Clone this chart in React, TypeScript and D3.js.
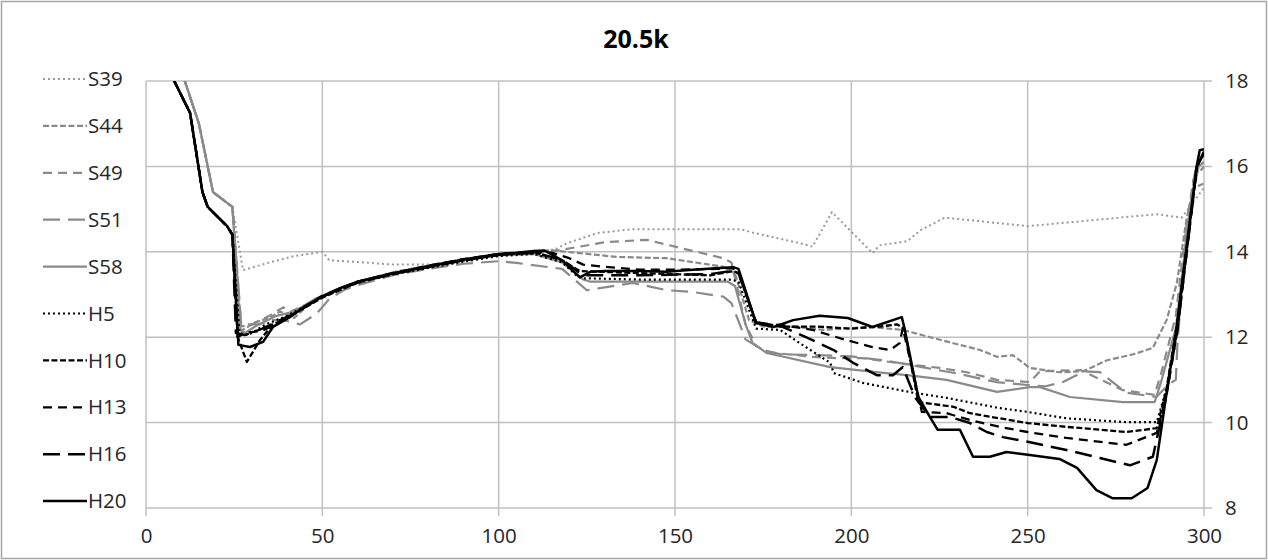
import React, { useEffect, useRef } from 'react';
import * as d3 from 'd3';

// cross-section profiles, [station, value]
const s39 = [[7, 19.4], [11, 18.0], [15, 17.0], [19, 15.4], [24.5, 15.05], [27.5, 13.57], [35, 13.75], [42, 13.9], [50, 14.0],
  [52, 13.8], [60, 13.76], [70, 13.7], [80.5, 13.7], [90, 13.8], [100, 13.9], [111.7, 13.97], [116.5, 14.08], [119.4, 14.2],
  [128, 14.44], [138, 14.53], [168.5, 14.53], [172, 14.45], [185.5, 14.2], [189, 14.12], [194.5, 14.93], [206, 13.97],
  [208, 14.15], [212, 14.2], [216, 14.25], [219.5, 14.5], [226.5, 14.8], [242, 14.67], [250, 14.6], [286.6, 14.88],
  [293.7, 14.8], [300, 15.5]];
const s44 = [[7, 19.4], [11, 18.0], [15, 17.0], [19, 15.4], [24.5, 15.05], [27, 12.15], [31, 12.35], [35, 12.45], [38, 12.6],
  [42, 12.45], [46, 12.75], [52, 13.0], [60, 13.3], [70, 13.52], [80, 13.68], [90, 13.82], [100, 13.92], [110, 13.98],
  [114.5, 14.04], [133.5, 13.88], [147.7, 13.85], [163.7, 13.65], [167, 13.5], [171, 12.4], [175, 12.25], [184.6, 12.24],
  [192, 12.17], [205.3, 12.24], [214.6, 12.17], [222.3, 12.0], [236.5, 11.7], [241.3, 11.54], [245.8, 11.58], [250.6, 11.28],
  [259, 11.18], [265.7, 11.2], [272.5, 11.46], [280, 11.6], [285.5, 11.75], [289.4, 12.4], [292.3, 13.27], [295, 14.74],
  [297, 15.5], [300, 15.6]];
const s49 = [[7, 19.4], [11, 18.0], [15, 17.0], [19, 15.4], [24.5, 15.05], [27, 12.25], [30, 12.3], [35, 12.5], [38.9, 12.7],
  [41, 12.6], [45, 12.75], [50, 12.95], [60, 13.3], [70, 13.5], [80, 13.68], [90, 13.82], [100, 13.93], [110, 13.98],
  [114.5, 14.0], [130.6, 14.23], [142, 14.28], [152, 14.08], [163.7, 13.85], [166, 13.75], [170, 12.3], [173, 11.8],
  [176, 11.65], [189, 11.54], [196, 11.51], [203, 11.51], [211, 11.42], [217.5, 11.35], [225, 11.28], [232.8, 11.18],
  [241.3, 11.0], [250.6, 10.95], [253.5, 11.2], [265, 11.23], [277, 10.76], [286, 10.65], [288, 11.2], [292, 12.5],
  [295, 14.6], [297, 15.7], [300, 16.0]];
const s51 = [[7, 19.4], [11, 18.0], [15, 17.0], [19, 15.4], [24.5, 15.05], [27, 12.3], [32, 12.3], [36, 12.4], [39, 12.4],
  [43.7, 12.3], [48.5, 12.56], [52, 12.9], [56, 13.1], [60, 13.22], [70, 13.45], [80, 13.6], [90, 13.72], [100, 13.78],
  [105, 13.74], [118, 13.6], [125, 13.1], [128.7, 13.15], [138, 13.27], [147.7, 13.1], [155, 13.06], [163.7, 12.95],
  [166, 12.8], [170, 11.95], [175, 11.7], [180, 11.6], [190, 11.58], [200, 11.55], [210, 11.45], [220, 11.3], [230, 11.15],
  [241, 10.95], [250, 10.88], [255, 10.85], [260, 10.95], [266, 11.2], [270.5, 11.18], [278, 10.7], [286.5, 10.6],
  [290, 10.9], [292, 11.0], [292.5, 11.9], [295, 14.4], [297.5, 15.9], [300, 16.1]];
const s58 = [[7, 19.4], [11, 18.0], [15, 17.0], [19, 15.4], [24.5, 15.05], [26.7, 12.2], [28, 12.1], [32, 12.3], [37, 12.5],
  [42, 12.6], [48, 12.9], [55, 13.15], [60, 13.3], [70, 13.5], [80, 13.65], [90, 13.8], [100, 13.92], [110, 13.95],
  [118, 13.75], [124, 13.35], [126, 13.3], [165, 13.3], [167, 13.2], [170, 12.3], [172, 11.86], [176, 11.63], [194, 11.3],
  [207, 11.18], [215.8, 11.11], [227, 11.0], [241.3, 10.72], [250.6, 10.83], [253.5, 10.83], [262, 10.6], [277, 10.48],
  [286, 10.48], [288, 11.0], [292, 12.2], [296, 15.0], [298.5, 16.0], [300, 16.1]];
const h5 = [[4, 19.4], [8, 18.0], [12.5, 17.25], [16, 15.4], [17.5, 15.05], [23, 14.6], [24.5, 14.4], [26.5, 12.1], [29, 12.05],
  [34, 12.3], [40, 12.5], [50, 12.95], [60, 13.27], [70, 13.47], [80, 13.62], [90, 13.77], [100, 13.9], [110, 13.95],
  [118, 13.75], [122, 13.45], [124, 13.38], [140, 13.35], [166, 13.35], [168, 13.3], [173, 12.2], [179.8, 12.17],
  [185.4, 11.86], [194, 11.4], [195, 11.16], [203.3, 10.93], [217.5, 10.7], [227, 10.58], [242, 10.34], [250, 10.25],
  [261, 10.1], [278, 10.01], [286.6, 10.01], [289.4, 10.8], [292.5, 12.2], [298, 16.0], [300, 16.3]];
const h10 = [[4, 19.4], [8, 18.0], [12.5, 17.25], [16, 15.4], [17.5, 15.05], [23, 14.6], [24.5, 14.4], [26, 12.0], [28.6, 11.42],
  [32.3, 11.93], [36, 12.3], [40, 12.45], [50, 12.93], [60, 13.28], [70, 13.48], [80, 13.65], [90, 13.8], [100, 13.93],
  [110, 13.99], [118, 13.8], [123, 13.55], [140, 13.5], [160, 13.45], [166.5, 13.55], [168, 13.5], [173, 12.35], [180, 12.25],
  [190, 12.25], [200, 12.2], [208, 12.25], [213, 12.3], [215, 12.2], [219, 10.48], [229, 10.37], [233.6, 10.22], [242, 10.1],
  [250, 9.99], [261, 9.9], [278, 9.78], [286.6, 9.87], [289.4, 10.8], [292.3, 12.3], [298, 16.0], [300, 16.3]];
const h13 = [[4, 19.4], [8, 18.0], [12.5, 17.25], [16, 15.4], [17.5, 15.05], [23, 14.6], [24.5, 14.4], [26, 12.0], [28, 12.1],
  [33, 12.15], [38, 12.35], [42, 12.55], [50, 12.97], [60, 13.3], [70, 13.5], [80, 13.67], [90, 13.83], [100, 13.95],
  [110, 14.0], [115, 13.98], [120, 13.85], [124, 13.7], [130, 13.65], [140, 13.58], [150, 13.58], [162, 13.6], [166, 13.62],
  [168, 13.55], [173, 12.3], [180, 12.29], [189, 12.17], [198.7, 11.93], [206, 11.77], [211, 11.7], [213.7, 11.86],
  [214.6, 12.22], [220, 10.25], [227, 10.22], [233.6, 10.06], [242, 9.9], [250, 9.78], [261, 9.64], [278, 9.48],
  [286.6, 9.76], [289.5, 10.7], [292.5, 12.2], [298, 16.0], [300, 16.3]];
const h16 = [[4, 19.4], [8, 18.0], [12.5, 17.25], [16, 15.4], [17.5, 15.05], [23, 14.6], [24.5, 14.4], [25.5, 12.1], [28, 12.05],
  [33, 12.2], [38, 12.4], [42, 12.55], [50, 12.95], [55, 13.13], [60, 13.28], [70, 13.48], [80, 13.64], [90, 13.8],
  [100, 13.93], [110, 13.98], [118, 13.82], [123, 13.5], [124, 13.45], [140, 13.45], [160, 13.48], [166, 13.55],
  [168, 13.5], [173, 12.35], [180, 12.26], [189, 11.93], [195, 11.7], [200.5, 11.4], [207.2, 11.11], [211.8, 11.11],
  [214.6, 11.3], [218, 10.6], [222.3, 10.13], [228, 10.13], [233.6, 9.99], [238.4, 9.78], [243, 9.66], [250, 9.55],
  [261, 9.36], [270.5, 9.17], [279, 9.0], [285.5, 9.2], [289, 10.5], [292.5, 12.2], [298, 16.0], [300, 16.35]];
const h20 = [[4, 19.4], [8, 18.0], [12.5, 17.25], [16, 15.4], [17.5, 15.05], [23, 14.6], [24.5, 14.4], [26.2, 11.82],
  [29.5, 11.77], [33.2, 11.89], [36, 12.24], [40.8, 12.47], [45, 12.72], [50, 12.95], [55, 13.15], [60, 13.3], [65, 13.4],
  [70, 13.5], [80, 13.66], [90, 13.82], [100, 13.95], [105, 13.98], [110, 14.02], [113, 14.03], [118, 13.8], [123, 13.4],
  [126, 13.53], [130, 13.55], [140, 13.55], [147.6, 13.53], [155, 13.58], [162.7, 13.62], [166.5, 13.64], [168, 13.6],
  [173, 12.33], [178, 12.24], [183.5, 12.4], [191, 12.5], [199, 12.45], [206, 12.24], [214.3, 12.47], [215, 12.24],
  [219, 10.6], [222.3, 10.13], [224.5, 9.83], [230.8, 9.83], [234.5, 9.2], [239.3, 9.2], [244, 9.31], [250.6, 9.24],
  [259, 9.15], [264, 8.94], [269.5, 8.42], [274, 8.23], [279.5, 8.23], [284, 8.47], [286.6, 9.12], [289.4, 10.7],
  [292.3, 12.25], [297.9, 16.0], [298.8, 16.38], [300, 16.4]];

const seriesNames = ['S39', 'S44', 'S49', 'S51', 'S58', 'H5', 'H10', 'H13', 'H16', 'H20'];
const seriesData = [s39, s44, s49, s51, s58, h5, h10, h13, h16, h20];
const xTicks = [0, 50, 100, 150, 200, 250, 300];
const yTicks = [8, 10, 12, 14, 16, 18];
const title = '20.5k';

const GRAY = '#8a8a8a';
const styles: { color: string; dash: string | null; width: number }[] = [
  { color: '#9a9a9a', dash: '2 3', width: 2 },
  { color: GRAY, dash: '6 2.5', width: 2.2 },
  { color: GRAY, dash: '9 6', width: 2.2 },
  { color: GRAY, dash: '17 8', width: 2.2 },
  { color: GRAY, dash: null, width: 2.2 },
  { color: '#000', dash: '2 3', width: 2.2 },
  { color: '#000', dash: '6 2.5', width: 2.3 },
  { color: '#000', dash: '9 6', width: 2.3 },
  { color: '#000', dash: '17 8', width: 2.5 },
  { color: '#000', dash: null, width: 2.5 },
];

const W = 1268;
const H = 560;
const FONT = '"Open Sans", "Liberation Sans", sans-serif';

const App = () => {
  const ref = useRef<SVGSVGElement | null>(null);

  useEffect(() => {
    const svg = d3.select(ref.current);
    svg.selectAll('*').remove();

    const x = d3.scaleLinear().domain([0, 300]).range([146, 1204]);
    const y = d3.scaleLinear().domain([8, 18]).range([508, 81]);

    svg.append('rect')
      .attr('x', 1.5).attr('y', 1.5).attr('width', W - 3).attr('height', H - 3)
      .attr('fill', '#fff').attr('stroke', '#a6a6a6').attr('stroke-width', 1.5);

    // gridlines
    const grid = svg.append('g').attr('stroke', '#c0c0c0').attr('stroke-width', 1.5);
    grid.selectAll('.vg').data(xTicks).enter().append('line')
      .attr('x1', d => x(d)).attr('x2', d => x(d))
      .attr('y1', y(18)).attr('y2', y(8) + 8);
    grid.selectAll('.hg').data(yTicks).enter().append('line')
      .attr('x1', x(0)).attr('x2', x(300) + 8)
      .attr('y1', d => y(d)).attr('y2', d => y(d));

    // axes labels
    const xAxis = d3.axisBottom(x).tickValues(xTicks).tickSize(0).tickPadding(20);
    const gx = svg.append('g').attr('transform', `translate(0,${y(8)})`).call(xAxis);
    gx.select('.domain').remove();
    gx.selectAll('text').attr('font-family', FONT).attr('font-size', 20.5).attr('fill', '#262626');

    const yAxis = d3.axisRight(y).tickValues(yTicks).tickSize(0).tickPadding(21);
    const gy = svg.append('g').attr('transform', `translate(${x(300)},0)`).call(yAxis);
    gy.select('.domain').remove();
    gy.selectAll('text').attr('font-family', FONT).attr('font-size', 20.5).attr('fill', '#262626');

    // series
    svg.append('clipPath').attr('id', 'plotclip').append('rect')
      .attr('x', x(0)).attr('y', y(18)).attr('width', x(300) - x(0)).attr('height', y(8) - y(18));

    const line = d3.line<number[]>().x(d => x(d[0])).y(d => y(d[1]));
    const plot = svg.append('g').attr('clip-path', 'url(#plotclip)');
    seriesData.forEach((data, i) => {
      const st = styles[i];
      plot.append('path')
        .attr('d', line(data))
        .attr('fill', 'none')
        .attr('stroke', st.color)
        .attr('stroke-width', st.width)
        .attr('stroke-linejoin', 'round')
        .attr('stroke-dasharray', st.dash);
    });

    // legend
    const lg = svg.append('g');
    seriesNames.forEach((name, i) => {
      const st = styles[i];
      const ly = 79 + i * 46.9;
      lg.append('line')
        .attr('x1', 43).attr('x2', 87).attr('y1', ly).attr('y2', ly)
        .attr('stroke', st.color).attr('stroke-width', st.width)
        .attr('stroke-dasharray', st.dash);
      lg.append('text')
        .attr('x', 88).attr('y', ly).attr('dy', '0.35em')
        .attr('font-family', FONT).attr('font-size', 20.5).attr('fill', '#262626')
        .text(name);
    });

    svg.append('text')
      .attr('x', 636).attr('y', 48)
      .attr('text-anchor', 'middle')
      .attr('font-family', FONT).attr('font-size', 25).attr('font-weight', 'bold')
      .attr('fill', '#000')
      .text(title);
  }, []);

  return (
    <div style={{ position: 'fixed', left: 0, top: 0 }}>
      <svg ref={ref} width={W} height={H} />
    </div>
  );
};

export default App;
